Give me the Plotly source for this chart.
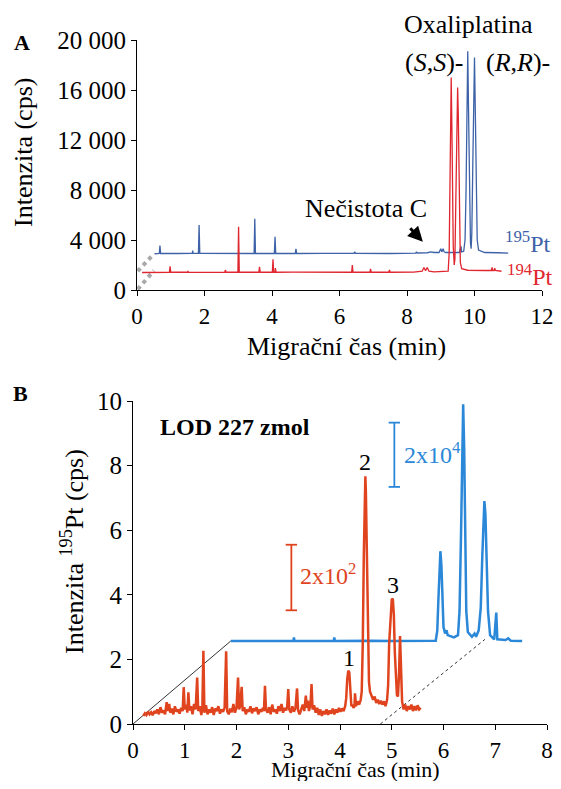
import plotly.graph_objects as go

# The page body adds an 8 px margin on each side; the figure is sized so the page does not
# overflow the 561x789 window, and reference pixel positions are shifted by -8 px.
OFF = 8
W, H = 561 - 2 * OFF, 789 - 2 * OFF
FONT = "Liberation Serif, Times New Roman, serif"

# ---------------- Panel A data (time min, intensity cps) ----------------
pt195_A = [(0.52, 2900), (0.66, 2920), (0.68, 3550), (0.70, 2920), (1.20, 2920), (1.64, 2930), (1.65, 3150),
           (1.66, 2930), (1.82, 2930), (1.84, 5200), (1.86, 2930), (2.50, 2920), (3.00, 2910), (3.47, 2920),
           (3.49, 5700), (3.51, 2920), (4.07, 2920), (4.09, 4250), (4.11, 2920), (4.69, 2920), (4.71, 3300),
           (4.73, 2920), (5.50, 2930), (6.43, 2930), (6.45, 3050), (6.47, 2930), (7.50, 2920), (8.00, 2950),
           (8.26, 2950), (8.28, 3050), (8.30, 2960), (8.60, 2980), (8.70, 3050), (8.80, 3000), (8.95, 3000),
           (9.00, 3300), (9.03, 3050), (9.07, 3300), (9.10, 3050), (9.15, 3000), (9.55, 3000), (9.60, 3500),
           (9.62, 3050), (9.68, 3100), (9.72, 4000), (9.75, 8000), (9.78, 15000), (9.80, 19100), (9.82, 15000),
           (9.85, 8000), (9.88, 3800), (9.90, 3300), (9.92, 4500), (9.95, 10000), (9.98, 16000), (10.00, 18600),
           (10.02, 15000), (10.05, 8000), (10.08, 4000), (10.12, 3200), (10.30, 3000), (10.70, 2980), (11.00, 2950)]

pt194_A = [(0.15, 1400), (0.50, 1420), (0.96, 1420), (0.98, 1900), (1.00, 1420), (1.50, 1430), (1.51, 1520),
           (1.52, 1430), (2.00, 1410), (2.60, 1420), (2.62, 1600), (2.64, 1420), (2.99, 1420), (3.01, 5050),
           (3.03, 1420), (3.61, 1420), (3.63, 1850), (3.65, 1420), (4.01, 1420), (4.03, 2450), (4.05, 1420),
           (4.09, 1420), (4.10, 1750), (4.12, 1420), (4.60, 1430), (5.20, 1420), (6.00, 1410), (6.36, 1420),
           (6.38, 2000), (6.40, 1420), (6.90, 1420), (6.92, 1700), (6.94, 1420), (7.46, 1420), (7.48, 1600),
           (7.50, 1420), (8.20, 1430), (8.45, 1500), (8.50, 1800), (8.55, 1550), (8.60, 1800), (8.65, 1500),
           (8.80, 1450), (9.15, 1460), (9.22, 1500), (9.25, 3000), (9.27, 7000), (9.29, 13000), (9.31, 17000),
           (9.33, 13000), (9.35, 7000), (9.37, 3500), (9.40, 2000), (9.42, 2500), (9.44, 6000), (9.46, 11000),
           (9.48, 15000), (9.50, 16200), (9.52, 14000), (9.54, 9000), (9.56, 4500), (9.58, 2200), (9.62, 1700),
           (9.80, 1580), (10.30, 1560), (10.50, 1560), (10.52, 1800), (10.54, 1560), (10.58, 1560), (10.60, 1750),
           (10.62, 1560), (10.80, 1500)]

break1_A = [(0.02, 60), (0.50, 1550)]
break2_A = [(0.02, 1500), (0.45, 2750)]

xticks_A = [0, 2, 4, 6, 8, 10, 12]
yticks_A = [0, 4000, 8000, 12000, 16000, 20000]
yticktext_A = ["0", "4 000", "8 000", "12 000", "16 000", "20 000"]

# ---------------- Panel B data ----------------
pt195_B = [(1.89, 2.57), (3.10, 2.57), (3.11, 2.68), (3.12, 2.57), (3.50, 2.57), (3.88, 2.57), (3.89, 2.68),
           (3.90, 2.57), (4.60, 2.58), (5.00, 2.57), (5.85, 2.58), (5.88, 2.90), (5.90, 3.80), (5.92, 4.90),
           (5.94, 5.35), (5.96, 4.90), (5.98, 3.90), (6.00, 3.00), (6.03, 2.80), (6.06, 2.90), (6.08, 2.75),
           (6.20, 2.68), (6.28, 2.75), (6.31, 3.50), (6.34, 6.00), (6.36, 8.50), (6.38, 9.90), (6.40, 8.50),
           (6.42, 6.00), (6.44, 3.50), (6.47, 2.85), (6.55, 2.70), (6.60, 2.80), (6.63, 2.70), (6.68, 2.90),
           (6.72, 3.60), (6.75, 5.20), (6.77, 6.50), (6.79, 6.90), (6.81, 6.50), (6.83, 5.20), (6.86, 3.50),
           (6.90, 2.75), (6.98, 2.62), (7.02, 3.45), (7.04, 2.62), (7.20, 2.60), (7.25, 2.65), (7.30, 2.58),
           (7.52, 2.57)]

pt195_B_low = [
    (0.20, 0.25), (0.23, 0.33), (0.26, 0.28), (0.29, 0.38), (0.32, 0.30), (0.35, 0.36), (0.38, 0.27), (0.41, 0.40),
    (0.44, 0.33), (0.47, 0.45), (0.50, 0.30), (0.53, 0.52), (0.56, 0.35), (0.59, 0.42), (0.62, 0.30), (0.65, 0.68),
    (0.67, 0.40), (0.70, 0.62), (0.72, 0.35), (0.75, 0.48), (0.78, 0.30), (0.81, 0.55), (0.84, 0.38), (0.87, 0.45),
    (0.90, 0.32), (0.93, 0.50), (0.96, 0.40), (0.98, 1.14), (1.00, 0.45), (1.03, 0.60), (1.05, 0.35), (1.07, 0.98),
    (1.09, 0.42), (1.12, 0.55), (1.15, 0.30), (1.18, 0.62), (1.21, 0.45), (1.24, 1.44), (1.26, 0.40), (1.29, 0.55),
    (1.32, 0.28), (1.34, 0.50), (1.36, 2.27), (1.38, 0.35), (1.41, 0.58), (1.44, 0.30), (1.47, 0.45), (1.50, 0.35),
    (1.53, 0.52), (1.56, 0.28), (1.59, 0.48), (1.62, 0.40), (1.65, 0.55), (1.68, 0.32), (1.71, 0.45), (1.74, 0.38),
    (1.77, 0.50), (1.80, 2.25), (1.82, 0.40), (1.85, 0.30), (1.88, 0.48), (1.91, 0.36), (1.94, 0.62), (1.97, 0.35),
    (2.00, 0.50), (2.03, 1.44), (2.05, 0.45), (2.07, 0.55), (2.10, 1.15), (2.12, 0.40), (2.15, 0.52), (2.18, 0.30),
    (2.21, 0.45), (2.24, 0.38), (2.27, 0.55), (2.30, 0.33), (2.33, 0.48), (2.36, 0.40), (2.39, 0.52), (2.42, 0.30),
    (2.45, 0.45), (2.48, 0.38), (2.51, 0.50), (2.53, 0.40), (2.55, 1.18), (2.57, 0.45), (2.60, 0.35), (2.63, 0.52),
    (2.66, 0.30), (2.69, 0.60), (2.72, 0.38), (2.75, 0.45), (2.78, 0.32), (2.81, 0.55), (2.84, 0.40), (2.87, 0.62),
    (2.90, 0.35), (2.93, 0.50), (2.96, 0.42), (2.98, 0.55), (3.00, 1.08), (3.02, 0.45), (3.05, 0.35), (3.08, 0.55),
    (3.11, 0.38), (3.14, 0.50), (3.17, 1.10), (3.19, 0.42), (3.22, 0.30), (3.25, 0.48), (3.28, 0.60), (3.31, 0.40),
    (3.34, 0.88), (3.36, 0.50), (3.38, 0.72), (3.40, 0.40), (3.43, 0.62), (3.45, 1.24), (3.47, 0.45), (3.50, 0.58),
    (3.53, 0.35), (3.56, 0.50), (3.59, 0.28), (3.62, 0.45), (3.65, 0.25), (3.68, 0.40), (3.71, 0.30), (3.74, 0.45),
    (3.77, 0.28), (3.80, 0.42), (3.83, 0.32), (3.86, 0.48), (3.89, 0.30), (3.92, 0.45), (3.95, 0.35), (3.98, 0.50),
    (4.01, 0.38), (4.04, 0.48), (4.07, 0.40), (4.10, 0.55), (4.12, 0.80), (4.14, 1.40), (4.16, 1.65), (4.18, 1.60),
    (4.20, 1.10), (4.22, 0.55), (4.24, 0.60), (4.26, 0.50), (4.28, 0.55), (4.29, 0.95), (4.31, 0.55), (4.34, 0.70),
    (4.37, 0.60), (4.40, 0.75), (4.42, 1.00), (4.44, 2.50), (4.46, 5.20), (4.48, 7.40), (4.49, 7.67), (4.50, 7.20),
    (4.52, 4.80), (4.54, 2.40), (4.56, 1.30), (4.58, 1.00), (4.61, 0.85), (4.64, 0.75), (4.67, 0.85), (4.70, 0.65),
    (4.73, 0.75), (4.76, 0.62), (4.79, 0.72), (4.82, 0.60), (4.85, 0.70), (4.88, 0.55), (4.91, 0.75), (4.93, 1.20),
    (4.95, 2.50), (4.96, 2.80), (4.98, 3.40), (5.00, 3.85), (5.02, 3.88), (5.04, 3.40), (5.06, 2.20), (5.08, 1.20),
    (5.10, 0.90), (5.12, 0.85), (5.14, 1.50), (5.16, 2.72), (5.18, 1.50), (5.20, 0.70), (5.23, 0.45), (5.26, 0.60),
    (5.29, 0.40), (5.32, 0.55), (5.35, 0.45), (5.38, 0.60), (5.41, 0.40), (5.44, 0.55), (5.47, 0.42), (5.50, 0.58),
    (5.53, 0.45), (5.56, 0.50)]

guide_solid_B = [(0.0, 0.0), (1.89, 2.57)]
guide_dot_B = [(4.78, 0.0), (6.80, 2.62)]
scalebar_red_B = (3.06, 3.52, 5.55)   # x, y bottom, y top
scalebar_blue_B = (5.05, 7.34, 9.33)
cap_half = 0.11

xticks_B = [0, 1, 2, 3, 4, 5, 6, 7, 8]
yticks_B = [0, 2, 4, 6, 8, 10]

BLUE_A, RED_A = "#3d62a8", "#e0262f"
BLUE_B, RED_B = "#2b88d8", "#e0441e"


def xs(pts):
    return [p[0] for p in pts]


def ys(pts):
    return [p[1] for p in pts]


fig = go.Figure()
# Panel A
fig.add_trace(go.Scatter(x=xs(break1_A), y=ys(break1_A), mode="lines", xaxis="x", yaxis="y",
                         line=dict(color="#a8a8a8", width=4, dash="dot"), hoverinfo="skip"))
fig.add_trace(go.Scatter(x=xs(break2_A), y=ys(break2_A), mode="lines", xaxis="x", yaxis="y",
                         line=dict(color="#a8a8a8", width=4, dash="dot"), hoverinfo="skip"))
fig.add_trace(go.Scatter(x=xs(pt195_A), y=ys(pt195_A), mode="lines", xaxis="x", yaxis="y",
                         line=dict(color=BLUE_A, width=1.3), name="195Pt"))
fig.add_trace(go.Scatter(x=xs(pt194_A), y=ys(pt194_A), mode="lines", xaxis="x", yaxis="y",
                         line=dict(color=RED_A, width=1.3), name="194Pt"))

# Panel B
fig.add_trace(go.Scatter(x=xs(guide_solid_B), y=ys(guide_solid_B), mode="lines", xaxis="x2", yaxis="y2",
                         line=dict(color="#333333", width=1), hoverinfo="skip"))
fig.add_trace(go.Scatter(x=xs(guide_dot_B), y=ys(guide_dot_B), mode="lines", xaxis="x2", yaxis="y2",
                         line=dict(color="#333333", width=1, dash="dot"), hoverinfo="skip"))
fig.add_trace(go.Scatter(x=xs(pt195_B), y=ys(pt195_B), mode="lines", xaxis="x2", yaxis="y2",
                         line=dict(color=BLUE_B, width=2.5), name="standard"))
fig.add_trace(go.Scatter(x=xs(pt195_B_low), y=ys(pt195_B_low), mode="lines", xaxis="x2", yaxis="y2",
                         line=dict(color=RED_B, width=2.5), name="LOD"))

# scale bars
for (bx, by0, by1), col in [(scalebar_red_B, RED_B), (scalebar_blue_B, BLUE_B)]:
    fig.add_shape(type="line", xref="x2", yref="y2", x0=bx, x1=bx, y0=by0, y1=by1, line=dict(color=col, width=1.8))
    for yy in (by0, by1):
        fig.add_shape(type="line", xref="x2", yref="y2", x0=bx - cap_half, x1=bx + cap_half, y0=yy, y1=yy,
                      line=dict(color=col, width=1.8))


def px(x):
    return (x - OFF) / W


def py(y):
    return 1 - (y - OFF) / H


axis_common = dict(showline=True, linecolor="black", linewidth=1, ticks="outside", ticklen=5, tickcolor="black",
                   showgrid=False, zeroline=False, automargin=False, fixedrange=True, ticklabeloverflow="allow")
xtickfont = dict(family=FONT, size=23, color="black")
ytickfont = dict(family=FONT, size=25, color="black")

fig.update_layout(
    template="none",
    width=W, height=H, margin=dict(l=0, r=0, t=0, b=0, pad=0), paper_bgcolor="white", plot_bgcolor="white",
    showlegend=False, font=dict(family=FONT, color="black"),
    xaxis=dict(domain=[px(137), px(542)], range=[0, 12], tickvals=xticks_A, anchor="y", tickfont=xtickfont,
               **axis_common),
    yaxis=dict(domain=[py(290), py(40)], range=[0, 20000], tickvals=yticks_A, ticktext=yticktext_A, anchor="x",
               tickfont=ytickfont, **axis_common),
    xaxis2=dict(domain=[px(133), px(547)], range=[0, 8], tickvals=xticks_B, anchor="y2", tickfont=xtickfont,
                **axis_common),
    yaxis2=dict(domain=[py(724), py(401)], range=[0, 10], tickvals=yticks_B, anchor="x2", tickfont=ytickfont,
                **axis_common),
)

ann = []


def A(text, x, y, size=25, color="black", xanchor="center", angle=0, weight="normal"):
    ann.append(dict(text=text, x=px(x), y=py(y), xref="paper", yref="paper", showarrow=False, xanchor=xanchor,
                    yanchor="middle", textangle=angle,
                    font=dict(family=FONT, size=size, color=color, weight=weight)))


# Panel A texts
A("A", 22, 42, size=22, weight="bold")
A("Intenzita (cps)", 23, 153, size=26, angle=-90)
A("Migrační čas (min)", 346, 346, size=26)
A("Oxaliplatina", 468, 25, size=26)
A("(<i>S</i>,<i>S</i>)-", 434, 62, size=26)
A("(<i>R</i>,<i>R</i>)-", 518, 62, size=26)
A("Nečistota C", 366, 208, size=26)
A("<sup>195</sup>Pt", 528, 242, size=24, color=BLUE_A)
A("<sup>194</sup>Pt", 530, 275, size=24, color=RED_A)

# Panel B texts
A("B", 20, 393, size=22, weight="bold")
A("LOD 227 zmol", 158, 427, size=24, xanchor="left", weight="bold")
A("Intenzita <sup>195</sup>Pt (cps)", 72, 552, size=26, angle=-90)
A("Migrační čas (min)", 355, 769, size=22)
A("2x10<sup>2</sup>", 298, 574, size=24, color=RED_B, xanchor="left")
A("2x10<sup>4</sup>", 402, 453, size=24, color=BLUE_B, xanchor="left")

fig.update_layout(annotations=ann)

# peak numbers (data coords)
for lbl, tx, ty in [("1", 4.17, 2.03), ("2", 4.48, 8.1), ("3", 5.02, 4.3)]:
    fig.add_annotation(text=lbl, x=tx, y=ty, xref="x2", yref="y2", showarrow=False,
                       font=dict(family=FONT, size=24, color="black"))

# arrow for impurity C
fig.add_annotation(text="", x=8.47, y=3860, xref="x", yref="y", showarrow=True, ax=-14, ay=-15,
                   arrowhead=2, arrowsize=1.0, arrowwidth=3, arrowcolor="black")

fig.write_html("out.html")
